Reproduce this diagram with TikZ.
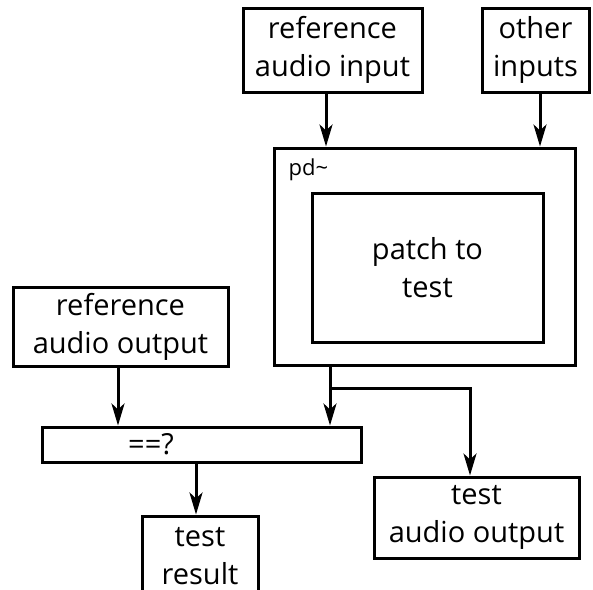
\documentclass[tikz,border=0pt]{standalone}
\usepackage{fontspec}
\setmainfont{Open Sans}
\usetikzlibrary{arrows.meta}
\tikzset{
  box/.style={draw, line width=3pt, inner sep=0pt, align=center,
              font=\fontsize{29}{38}\selectfont},
  arr/.style={line width=3pt, -{Stealth[length=22pt,width=13pt,inset=6pt]}},
  link/.style={line width=3pt}
}
\begin{document}
\begin{tikzpicture}[x=1pt,y=-1pt]
\useasboundingbox (0,0) rectangle (593,589);
\clip (0,0) rectangle (593,589);
% input boxes
\node[box, minimum width=179pt, minimum height=84pt] (rin) at (332.5,50) {reference\\audio input};
\node[box, minimum width=107pt, minimum height=84pt] (oth) at (535.5,50) {other\\inputs};
% pd~ wrapper and the patch inside it
\node[box, minimum width=301pt, minimum height=217pt] (pd) at (424.5,256.5) {};
\node[font=\fontsize{22}{26}\selectfont, anchor=west] (pdl) at (285,170) {pd\char`\~};
\node[box, minimum width=231pt, minimum height=149pt] (patch) at (427.5,267.5) {patch to\\test};
% reference output and comparator
\node[box, minimum width=215pt, minimum height=79pt] (rout) at (120.5,326.5) {reference\\audio output};
\node[box, minimum width=319pt, minimum height=35pt] (eq) at (201.5,444.5) {};
\node[font=\fontsize{29}{38}\selectfont] (eql) at (151,444) {==?};
% outputs
\node[box, minimum width=205pt, minimum height=81pt] (tout) at (476.5,517.5) {test\\audio output};
\node[box, minimum width=116pt, minimum height=80pt] (res) at (200,556) {test\\result};
% connector guides
\coordinate (c1) at (326,0);
\coordinate (c2) at (540,0);
\coordinate (c3) at (118,0);
\coordinate (br) at (330,388);
\coordinate (c4) at (470,388);
\coordinate (c5) at (196,0);
% connectors
\draw[arr] (rin.south -| c1) -- (pd.north -| c1);
\draw[arr] (oth.south -| c2) -- (pd.north -| c2);
\draw[arr] (rout.south -| c3) -- (eq.north -| c3);
\draw[arr] (pd.south -| br) -- (eq.north -| br);
\draw[arr] (br) -- (c4) -- (tout.north -| c4);
\draw[arr] (eq.south -| c5) -- (res.north -| c5);
\end{tikzpicture}
\end{document}
